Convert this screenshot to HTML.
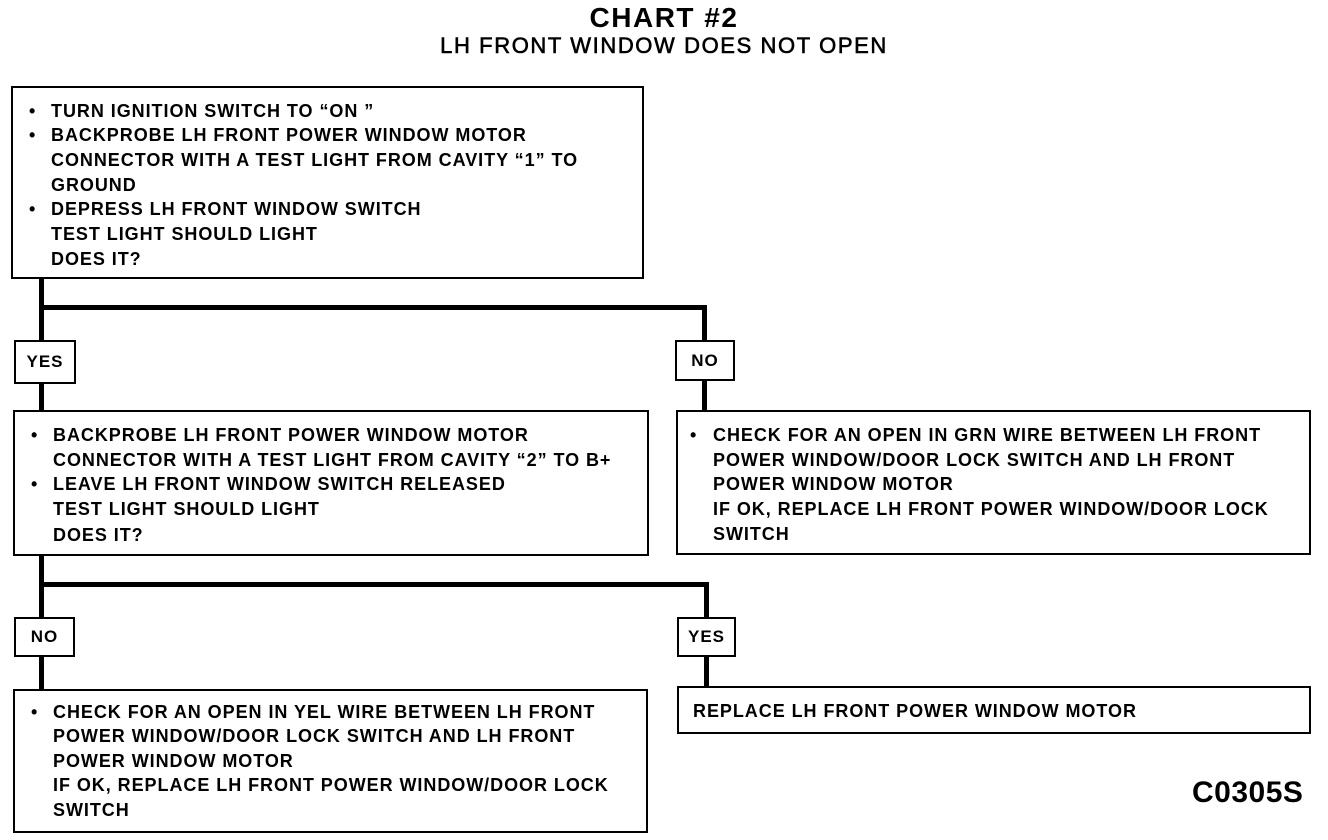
<!DOCTYPE html>
<html><head><style>
body{margin:0;width:1328px;height:840px;background:#fff;position:relative;overflow:hidden;font-family:"Liberation Sans",Arial,sans-serif;font-weight:bold;color:#000}
.box{position:absolute;border:2px solid #000;box-sizing:border-box;font-size:18px;letter-spacing:0.95px;line-height:24.5px}
.l{position:absolute;background:#000}
.t{position:absolute;white-space:nowrap}
.lab{position:absolute;border:2px solid #000;box-sizing:border-box;font-size:17px;letter-spacing:1px;text-align:center;background:#fff}
</style></head><body>
<div class="t" style="left:0;width:1328px;text-align:center;top:2px;font-size:28px;letter-spacing:1.5px">CHART #2</div>
<div class="t" style="left:0;width:1328px;text-align:center;top:33px;font-size:22px;letter-spacing:1.6px;font-weight:normal;-webkit-text-stroke:0.6px #000">LH FRONT WINDOW DOES NOT OPEN</div>

<div class="box" style="left:11px;top:86px;width:633px;height:193px">
<div class="t" style="left:16px;top:11px">•</div><div class="t" style="left:38px;top:11px">TURN IGNITION SWITCH TO “ON ”</div>
<div class="t" style="left:16px;top:35px">•</div><div class="t" style="left:38px;top:35px">BACKPROBE LH FRONT POWER WINDOW MOTOR</div>
<div class="t" style="left:38px;top:60px">CONNECTOR WITH A TEST LIGHT FROM CAVITY “1” TO</div>
<div class="t" style="left:38px;top:85px">GROUND</div>
<div class="t" style="left:16px;top:109px">•</div><div class="t" style="left:38px;top:109px">DEPRESS LH FRONT WINDOW SWITCH</div>
<div class="t" style="left:38px;top:134px">TEST LIGHT SHOULD LIGHT</div>
<div class="t" style="left:38px;top:159px">DOES IT?</div>
</div>

<div class="l" style="left:39px;top:278px;width:5px;height:133px"></div>
<div class="l" style="left:39px;top:305px;width:668px;height:5px"></div>
<div class="l" style="left:702px;top:305px;width:5px;height:106px"></div>
<div class="lab" style="left:14px;top:340px;width:62px;height:44px;line-height:40px">YES</div>
<div class="lab" style="left:675px;top:340px;width:60px;height:41px;line-height:37px">NO</div>

<div class="box" style="left:13px;top:410px;width:636px;height:146px">
<div class="t" style="left:16px;top:11px">•</div><div class="t" style="left:38px;top:11px">BACKPROBE LH FRONT POWER WINDOW MOTOR</div>
<div class="t" style="left:38px;top:36px">CONNECTOR WITH A TEST LIGHT FROM CAVITY “2” TO B+</div>
<div class="t" style="left:16px;top:60px">•</div><div class="t" style="left:38px;top:60px">LEAVE LH FRONT WINDOW SWITCH RELEASED</div>
<div class="t" style="left:38px;top:85px">TEST LIGHT SHOULD LIGHT</div>
<div class="t" style="left:38px;top:111px">DOES IT?</div>
</div>
<div class="box" style="left:676px;top:410px;width:635px;height:145px">
<div class="t" style="left:12px;top:11px">•</div><div class="t" style="left:35px;top:11px">CHECK FOR AN OPEN IN GRN WIRE BETWEEN LH FRONT</div>
<div class="t" style="left:35px;top:36px">POWER WINDOW/DOOR LOCK SWITCH AND LH FRONT</div>
<div class="t" style="left:35px;top:60px">POWER WINDOW MOTOR</div>
<div class="t" style="left:35px;top:85px">IF OK, REPLACE LH FRONT POWER WINDOW/DOOR LOCK</div>
<div class="t" style="left:35px;top:110px">SWITCH</div>
</div>

<div class="l" style="left:39px;top:555px;width:5px;height:135px"></div>
<div class="l" style="left:39px;top:582px;width:670px;height:5px"></div>
<div class="l" style="left:704px;top:582px;width:5px;height:105px"></div>
<div class="lab" style="left:14px;top:617px;width:61px;height:40px;line-height:36px">NO</div>
<div class="lab" style="left:677px;top:617px;width:59px;height:40px;line-height:36px">YES</div>

<div class="box" style="left:13px;top:689px;width:635px;height:144px">
<div class="t" style="left:16px;top:9px">•</div><div class="t" style="left:38px;top:9px">CHECK FOR AN OPEN IN YEL WIRE BETWEEN LH FRONT</div>
<div class="t" style="left:38px;top:33px">POWER WINDOW/DOOR LOCK SWITCH AND LH FRONT</div>
<div class="t" style="left:38px;top:58px">POWER WINDOW MOTOR</div>
<div class="t" style="left:38px;top:82px">IF OK, REPLACE LH FRONT POWER WINDOW/DOOR LOCK</div>
<div class="t" style="left:38px;top:107px">SWITCH</div>
</div>
<div class="box" style="left:677px;top:686px;width:634px;height:48px">
<div class="t" style="left:14px;top:11px">REPLACE LH FRONT POWER WINDOW MOTOR</div>
</div>
<div class="t" style="left:1192px;top:776px;font-size:30px;letter-spacing:0.5px">C0305S</div>
</body></html>
